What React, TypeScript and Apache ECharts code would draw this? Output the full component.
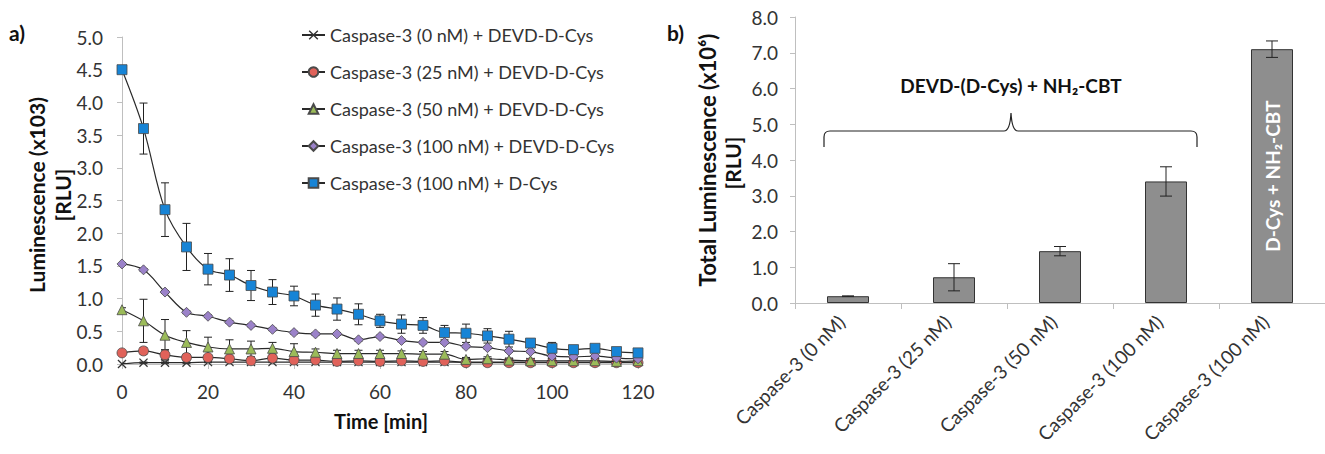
import React, { useEffect, useRef } from "react";
import * as echarts from "echarts";

// ---------- Data (panel a) ----------
const timeMin = [0, 5, 10, 15, 20, 25, 30, 35, 40, 45, 50, 55, 60, 65, 70, 75, 80, 85, 90, 95, 100, 105, 110, 115, 120];

const seriesNames = [
  "Caspase-3 (0 nM) + DEVD-D-Cys",
  "Caspase-3 (25 nM) + DEVD-D-Cys",
  "Caspase-3 (50 nM) + DEVD-D-Cys",
  "Caspase-3 (100 nM) + DEVD-D-Cys",
  "Caspase-3 (100 nM) + D-Cys",
];

const cas0 = [0.0, 0.02, 0.02, 0.02, 0.03, 0.03, 0.03, 0.03, 0.03, 0.03, 0.03, 0.03, 0.03, 0.03, 0.03, 0.03, 0.03, 0.03, 0.03, 0.03, 0.03, 0.03, 0.03, 0.03, 0.03];
const cas0Err = [0.01, 0.01, 0.01, 0.01, 0.01, 0.01, 0.01, 0.01, 0.01, 0.01, 0.01, 0.01, 0.01, 0.01, 0.01, 0.01, 0.01, 0.01, 0.01, 0.01, 0.01, 0.01, 0.01, 0.01, 0.01];

const cas25 = [0.17, 0.2, 0.14, 0.1, 0.1, 0.08, 0.05, 0.09, 0.06, 0.06, 0.04, 0.05, 0.04, 0.05, 0.04, 0.05, 0.02, 0.02, 0.02, 0.02, 0.02, 0.02, 0.02, 0.02, 0.02];
const cas25Err = [0.03, 0.05, 0.08, 0.03, 0.03, 0.03, 0.02, 0.03, 0.02, 0.02, 0.02, 0.02, 0.02, 0.02, 0.02, 0.02, 0.02, 0.02, 0.02, 0.02, 0.02, 0.02, 0.02, 0.02, 0.02];

const cas50 = [0.83, 0.66, 0.44, 0.33, 0.26, 0.23, 0.23, 0.24, 0.19, 0.18, 0.16, 0.16, 0.16, 0.16, 0.15, 0.15, 0.07, 0.08, 0.06, 0.05, 0.05, 0.05, 0.05, 0.04, 0.05];
const cas50Err = [0.03, 0.33, 0.24, 0.18, 0.15, 0.14, 0.12, 0.09, 0.12, 0.05, 0.05, 0.05, 0.05, 0.04, 0.04, 0.04, 0.03, 0.03, 0.03, 0.03, 0.03, 0.03, 0.03, 0.03, 0.03];

const cas100 = [1.53, 1.44, 1.1, 0.79, 0.73, 0.64, 0.59, 0.53, 0.48, 0.46, 0.46, 0.37, 0.42, 0.36, 0.33, 0.33, 0.27, 0.25, 0.2, 0.19, 0.12, 0.11, 0.12, 0.09, 0.08];
const cas100Err = [0.02, 0.02, 0.02, 0.02, 0.02, 0.02, 0.02, 0.02, 0.02, 0.02, 0.02, 0.02, 0.02, 0.02, 0.02, 0.02, 0.02, 0.02, 0.02, 0.02, 0.02, 0.02, 0.02, 0.02, 0.02];

const dcys = [4.5, 3.6, 2.36, 1.79, 1.45, 1.36, 1.2, 1.1, 1.04, 0.9, 0.84, 0.76, 0.66, 0.61, 0.59, 0.48, 0.47, 0.43, 0.38, 0.32, 0.24, 0.22, 0.24, 0.19, 0.17];
const dcysErr = [0.02, 0.39, 0.41, 0.36, 0.24, 0.25, 0.23, 0.19, 0.15, 0.17, 0.17, 0.16, 0.1, 0.14, 0.12, 0.11, 0.14, 0.11, 0.12, 0.06, 0.09, 0.04, 0.03, 0.03, 0.03];

const xTicksA = { min: 0, max: 120, interval: 20 };
const yTicksA = { min: 0, max: 5, interval: 0.5 };

// ---------- Data (panel b) ----------
const barLabels = ["Caspase-3 (0 nM)", "Caspase-3 (25 nM)", "Caspase-3 (50 nM)", "Caspase-3 (100 nM)", "Caspase-3 (100 nM)"];
const barValues = [0.19, 0.72, 1.45, 3.4, 7.1];
const barErr = [0.01, 0.38, 0.13, 0.41, 0.23];
const yTicksB = { min: 0, max: 8, interval: 1 };

const FONT = "Lato, 'Open Sans', sans-serif";
const TXT = "#333";
const AXIS = "#bfbfbf";

const colors = ["#333333", "#E0625A", "#9BBB59", "#9B82C9", "#1784D6"];
const symbols = [
  "path://M0,1L1,0L5,4L9,0L10,1L6,5L10,9L9,10L5,6L1,10L0,9L4,5Z",
  "circle",
  "triangle",
  "diamond",
  "rect",
];
const sizes = [9, 10, 10, 10, 10];
const lineValues = [cas0, cas25, cas50, cas100, dcys];
const lineErrs = [cas0Err, cas25Err, cas50Err, cas100Err, dcysErr];

const bracketD =
  "M824,147 L824,137 Q824,131 830,131 L1004,131 Q1010,131 1011,113 Q1012,131 1018,131 L1191,131 Q1197,131 1197,137 L1197,147";

function errRenderer(capHalf: number) {
  return (params: any, api: any) => {
    const x = api.value(0);
    const lo = api.value(1);
    const hi = api.value(2);
    const pLo = api.coord([x, lo]);
    const pHi = api.coord([x, hi]);
    const style = { stroke: "#222", lineWidth: 1, fill: "none" };
    return {
      type: "group",
      children: [
        { type: "line", shape: { x1: pLo[0], y1: pLo[1], x2: pHi[0], y2: pHi[1] }, style },
        { type: "line", shape: { x1: pHi[0] - capHalf, y1: pHi[1], x2: pHi[0] + capHalf, y2: pHi[1] }, style },
        { type: "line", shape: { x1: pLo[0] - capHalf, y1: pLo[1], x2: pLo[0] + capHalf, y2: pLo[1] }, style },
      ],
    };
  };
}

export default function App() {
  const ref = useRef<HTMLDivElement>(null);

  useEffect(() => {
    if (!ref.current) return;
    try {
      echarts.graphic.registerShape("bracket", echarts.graphic.extendPath(bracketD, {}));
    } catch (e) {}
    const chart = echarts.init(ref.current, undefined, { renderer: "svg" });

    const lineSeries: any[] = [];
    const errSeries: any[] = [];
    lineValues.forEach((vals, k) => {
      errSeries.push({
        type: "custom",
        name: "err" + k,
        xAxisIndex: 0,
        yAxisIndex: 0,
        z: 1,
        clip: true,
        renderItem: errRenderer(4),
        encode: { x: 0, y: [1, 2] },
        data: timeMin.map((t, i) => [t, Math.max(0, vals[i] - lineErrs[k][i]), vals[i] + lineErrs[k][i]]),
      });
      lineSeries.push({
        type: "line",
        name: seriesNames[k],
        xAxisIndex: 0,
        yAxisIndex: 0,
        z: 3 + k,
        data: timeMin.map((t, i) => [t, vals[i]]),
        smooth: 0.35,
        symbol: symbols[k],
        symbolSize: sizes[k],
        showAllSymbol: true,
        lineStyle: { color: "#2a2a2a", width: 1.2 },
        itemStyle: {
          color: colors[k],
          borderColor: k === 0 ? "#333" : "#4a4a4a",
          borderWidth: k === 0 ? 0 : 0.8,
        },
      });
    });

    const option: any = {
      animation: false,
      textStyle: { fontFamily: FONT },
      grid: [
        { left: 122, top: 37, width: 516, height: 327 },
        { left: 795, top: 17, width: 538, height: 286 },
      ],
      legend: {
        orient: "vertical",
        left: 296,
        top: 21,
        itemWidth: 23,
        itemHeight: 12,
        itemGap: 19,
        data: seriesNames,
        textStyle: { fontSize: 18, color: TXT, fontFamily: FONT },
        selectedMode: false,
      },
      xAxis: [
        {
          type: "value",
          gridIndex: 0,
          ...xTicksA,
          axisLine: { show: true, lineStyle: { color: AXIS } },
          axisTick: { show: true, length: 5, lineStyle: { color: AXIS } },
          splitLine: { show: false },
          axisLabel: { fontSize: 19, color: TXT, margin: 18, fontFamily: FONT },
        },
        {
          type: "category",
          gridIndex: 1,
          data: barLabels.map((_, i) => String(i)),
          axisLine: { show: true, lineStyle: { color: AXIS } },
          axisTick: { show: true, length: 6, lineStyle: { color: AXIS } },
          axisLabel: {
            rotate: 45,
            fontSize: 19,
            color: TXT,
            margin: 22,
            verticalAlign: "bottom",
            fontFamily: FONT,
            interval: 0,
            formatter: (v: string, i: number) => barLabels[i],
          },
        },
      ],
      yAxis: [
        {
          type: "value",
          gridIndex: 0,
          ...yTicksA,
          axisLine: { show: true, lineStyle: { color: AXIS } },
          axisTick: { show: true, length: 5, lineStyle: { color: AXIS } },
          splitLine: { show: false },
          axisLabel: { fontSize: 19, color: TXT, margin: 19, fontFamily: FONT, formatter: (v: number) => v.toFixed(1) },
        },
        {
          type: "value",
          gridIndex: 1,
          ...yTicksB,
          axisLine: { show: true, lineStyle: { color: AXIS } },
          axisTick: { show: true, length: 5, lineStyle: { color: AXIS } },
          splitLine: { show: false },
          axisLabel: { fontSize: 19, color: TXT, margin: 17, fontFamily: FONT, formatter: (v: number) => v.toFixed(1) },
        },
      ],
      series: [
        ...errSeries,
        ...lineSeries,
        {
          type: "bar",
          name: "bars",
          xAxisIndex: 1,
          yAxisIndex: 1,
          barWidth: 42,
          z: 2,
          itemStyle: { color: "#8e8e8e", borderColor: "#333", borderWidth: 1 },
          data: barValues.map((v, i) =>
            i === 4
              ? {
                  value: v,
                  label: {
                    show: true,
                    position: "inside",
                    rotate: 90,
                    formatter: "D-Cys + NH₂-CBT",
                    color: "#fff",
                    fontWeight: "bold",
                    fontSize: 19,
                    fontFamily: FONT,
                  },
                }
              : v
          ),
        },
        {
          type: "custom",
          name: "barErr",
          xAxisIndex: 1,
          yAxisIndex: 1,
          z: 5,
          renderItem: errRenderer(6),
          encode: { x: 0, y: [1, 2] },
          data: barValues.map((v, i) => [i, v - barErr[i], v + barErr[i]]),
        },
      ],
      graphic: [
        { type: "text", left: 9, top: 22, style: { text: "a)", font: `bold 21px ${FONT}`, fill: "#111" } },
        { type: "text", left: 667, top: 22, style: { text: "b)", font: `bold 21px ${FONT}`, fill: "#111" } },
        {
          type: "text",
          x: 36,
          y: 195,
          rotation: Math.PI / 2,
          style: { text: "Luminescence (x103)", font: `bold 21px ${FONT}`, fill: "#111", align: "center", verticalAlign: "middle" },
        },
        {
          type: "text",
          x: 62,
          y: 195,
          rotation: Math.PI / 2,
          style: { text: "[RLU]", font: `bold 21px ${FONT}`, fill: "#111", align: "center", verticalAlign: "middle" },
        },
        {
          type: "text",
          x: 381,
          y: 421,
          style: { text: "Time [min]", font: `bold 20px ${FONT}`, fill: "#111", align: "center", verticalAlign: "middle" },
        },
        {
          type: "text",
          x: 707,
          y: 160,
          rotation: Math.PI / 2,
          style: { text: "Total Luminescence (x10⁶)", font: `bold 22px ${FONT}`, fill: "#111", align: "center", verticalAlign: "middle" },
        },
        {
          type: "text",
          x: 732,
          y: 163,
          rotation: Math.PI / 2,
          style: { text: "[RLU]", font: `bold 21px ${FONT}`, fill: "#111", align: "center", verticalAlign: "middle" },
        },
        {
          type: "text",
          x: 1011,
          y: 85,
          style: { text: "DEVD-(D-Cys) + NH₂-CBT", font: `bold 19px ${FONT}`, fill: "#111", align: "center", verticalAlign: "middle" },
        },
        {
          type: "bracket",
          x: 0,
          y: 0,
          scaleX: 1,
          scaleY: 1,
          style: { stroke: "#222", fill: "none", lineWidth: 1.2 },
        },
      ],
    };

    chart.setOption(option);
    return () => chart.dispose();
  }, []);

  return (
    <div
      ref={ref}
      style={{ position: "fixed", left: 0, top: 0, width: 1325, height: 454, background: "#fff" }}
    />
  );
}
